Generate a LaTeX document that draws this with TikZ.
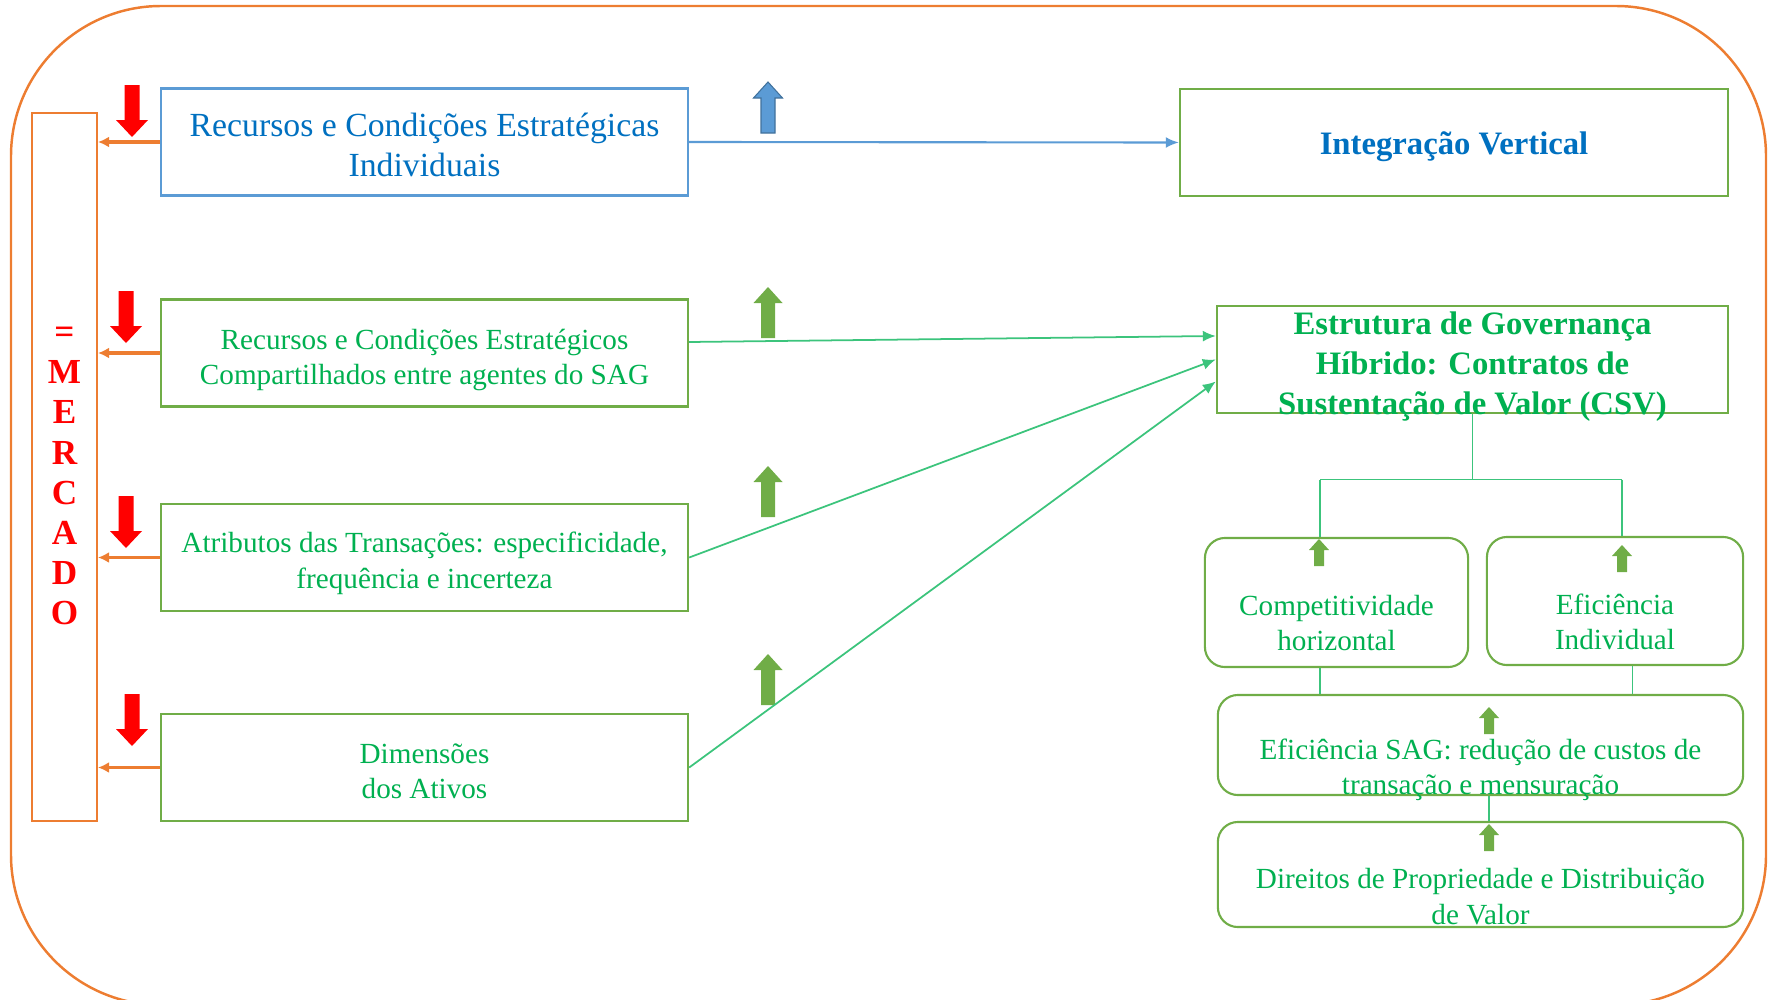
\documentclass[tikz,border=0pt]{standalone}
\usepackage{fontspec}
\setmainfont{Liberation Serif}
\usetikzlibrary{arrows.meta}
\definecolor{laranja}{HTML}{ED7D31}
\definecolor{azulTexto}{HTML}{0070C0}
\definecolor{azulBorda}{HTML}{5B9BD5}
\definecolor{azulSeta}{HTML}{41719C}
\definecolor{verdeBorda}{HTML}{70AD47}
\definecolor{verdeTexto}{HTML}{00B050}
\definecolor{verdeLinha}{HTML}{3CC47C}
\tikzset{
	caixa/.style={draw=verdeBorda,line width=0.6pt,inner sep=0pt,align=center},
	esq/.style={caixa,minimum width=5.27cm,minimum height=1.07cm},
	caixaR/.style={caixa,rounded corners=0.2cm},
	txtVerde/.style={text=verdeTexto,align=center,font=\fontsize{8.3}{10.1}\selectfont},
	txtAzul/.style={text=azulTexto,align=center,font=\fontsize{9.6}{11.5}\selectfont},
	negrito/.style={font=\bfseries\fontsize{9.3}{11.4}\selectfont,align=center},
	ligVerde/.style={verdeLinha,line width=0.5pt},
	ligAzul/.style={azulBorda,line width=0.6pt,-{Latex[length=1.3mm,width=1.1mm]}},
	ligLaranja/.style={laranja,line width=0.9pt,-{Latex[length=1.1mm,width=1.1mm]}}
}
\begin{document}
\begin{tikzpicture}[x=0.01cm,y=-0.01cm]
	\clip (0,0) rectangle (1769,1000);
	\draw[laranja,line width=0.7pt,rounded corners=1.5cm] (11,6) rectangle (1766,1005);
	% mercado
	\node[draw=laranja,line width=0.6pt,minimum width=0.65cm,minimum height=7.08cm,inner sep=0pt] (mercado) at (64.5,467) {};
	% caixas da esquerda
	\node[esq,draw=azulBorda] (rcei) at (424.5,142) {};
	\node[esq] (rcsc) at (424.5,353) {};
	\node[esq] (atrib) at (424.5,557.5) {};
	\node[esq] (dimen) at (424.5,767.5) {};
	% caixas da direita
	\node[caixa,minimum width=5.48cm,minimum height=1.07cm] (iv) at (1454,142.5) {};
	\node[caixa,minimum width=5.11cm,minimum height=1.07cm] (gov) at (1472.5,359.5) {};
	\node[caixaR,minimum width=2.63cm,minimum height=1.29cm] (comp) at (1336.5,602.5) {};
	\node[caixaR,minimum width=2.56cm,minimum height=1.28cm] (efi) at (1615,601) {};
	\node[caixaR,minimum width=5.25cm,minimum height=1.0cm] (sag) at (1480.5,745) {};
	\node[caixaR,minimum width=5.25cm,minimum height=1.05cm] (dir) at (1480.5,874.5) {};
	% setas para o mercado
	\foreach \c in {rcei,rcsc,atrib,dimen}
	\draw[ligLaranja] (\c.west) -- (mercado.east |- \c.west);
	\foreach \x/\y in {132/85,126/291,126/496,132/694}
	\fill[red,shift={(\x,\y)}] (-7.5,0)--(7.5,0)--(7.5,35)--(16,35)--(0,52)--(-16,35)--(-7.5,35)--cycle;
	% setas para cima
	\filldraw[fill=azulBorda,draw=azulSeta,line width=0.3pt,shift={(768,82)}] (0,0)--(14.5,16)--(7,16)--(7,51)--(-7,51)--(-7,16)--(-14.5,16)--cycle;
	\foreach \y in {287,466,654}
	\fill[verdeBorda,shift={(768,\y)}] (0,0)--(14.5,16)--(7,16)--(7,51)--(-7,51)--(-7,16)--(-14.5,16)--cycle;
	% ligacoes
	\draw[ligAzul] (rcei.east) -- (iv.west);
	\draw[ligVerde,-{Latex[length=1.3mm,width=1.1mm]}] ([yshift=0.11cm]rcsc.east) -- ([yshift=0.235cm]gov.west);
	\draw[ligVerde,-{Latex[length=1.3mm,width=1.1mm]}] (atrib.east) -- (gov.west);
	\draw[ligVerde,-{Latex[length=1.3mm,width=1.1mm]}] (dimen.east) -- ([yshift=-0.22cm]gov.west);
	\coordinate (bifE) at (1320,479.5);
	\coordinate (bifD) at (1622,479.5);
	\draw[ligVerde] (gov.south) -- (gov.south |- bifE);
	\draw[ligVerde] (bifE) -- (bifD);
	\draw[ligVerde] (bifE) -- (bifE |- comp.north);
	\draw[ligVerde] (bifD) -- (bifD |- efi.north);
	\draw[ligVerde] (bifE |- comp.south) -- (bifE |- sag.north);
	\draw[ligVerde] ([xshift=0.175cm]efi.south) -- ([xshift=0.175cm]efi.south |- sag.north);
	\draw[ligVerde] ([xshift=0.085cm]sag.south) -- ([xshift=0.085cm]dir.north);
	\foreach \x/\y in {1319/539,1622/545,1489/707,1489/824}
	\fill[verdeBorda,shift={(\x,\y)}] (0,0)--(10,11)--(5,11)--(5,27)--(-5,27)--(-5,11)--(-10,11)--cycle;
	% textos
	\node[align=center,text=red,font=\bfseries\fontsize{10}{11.4}\selectfont] (tmercado) at ([yshift=-0.09cm]mercado) {=\\M\\E\\R\\C\\A\\D\\O};
	\node[txtAzul] (trcei) at ([yshift=-0.03cm]rcei) {Recursos e Condições Estratégicas\\Individuais};
	\node[txtVerde] (trcsc) at ([yshift=-0.07cm]rcsc) {Recursos e Condições Estratégicos\\Compartilhados entre agentes do SAG};
	\node[txtVerde] (tatrib) at ([yshift=-0.06cm]atrib) {Atributos das Transações: especificidade,\\frequência e incerteza};
	\node[txtVerde] (tdimen) at ([yshift=-0.04cm]dimen) {Dimensões\\dos Ativos};
	\node[negrito,text=azulTexto] (tiv) at ([yshift=-0.045cm]iv) {Integração Vertical};
	\node[negrito,text=verdeTexto] (tgov) at (1472.5,366.5) {Estrutura de Governança\\Híbrido: Contratos de\\Sustentação de Valor (CSV)};
	\node[txtVerde] (tcomp) at (1336.5,623) {Competitividade\\horizontal};
	\node[txtVerde] (tefi) at (1615,622) {Eficiência\\Individual};
	\node[txtVerde] (tsag) at (1480.5,770) {Eficiência SAG: redução de custos de\\transação e mensuração};
	\node[txtVerde] (tdir) at (1480.5,896.4) {Direitos de Propriedade e Distribuição\\de Valor};
\end{tikzpicture}
\end{document}
